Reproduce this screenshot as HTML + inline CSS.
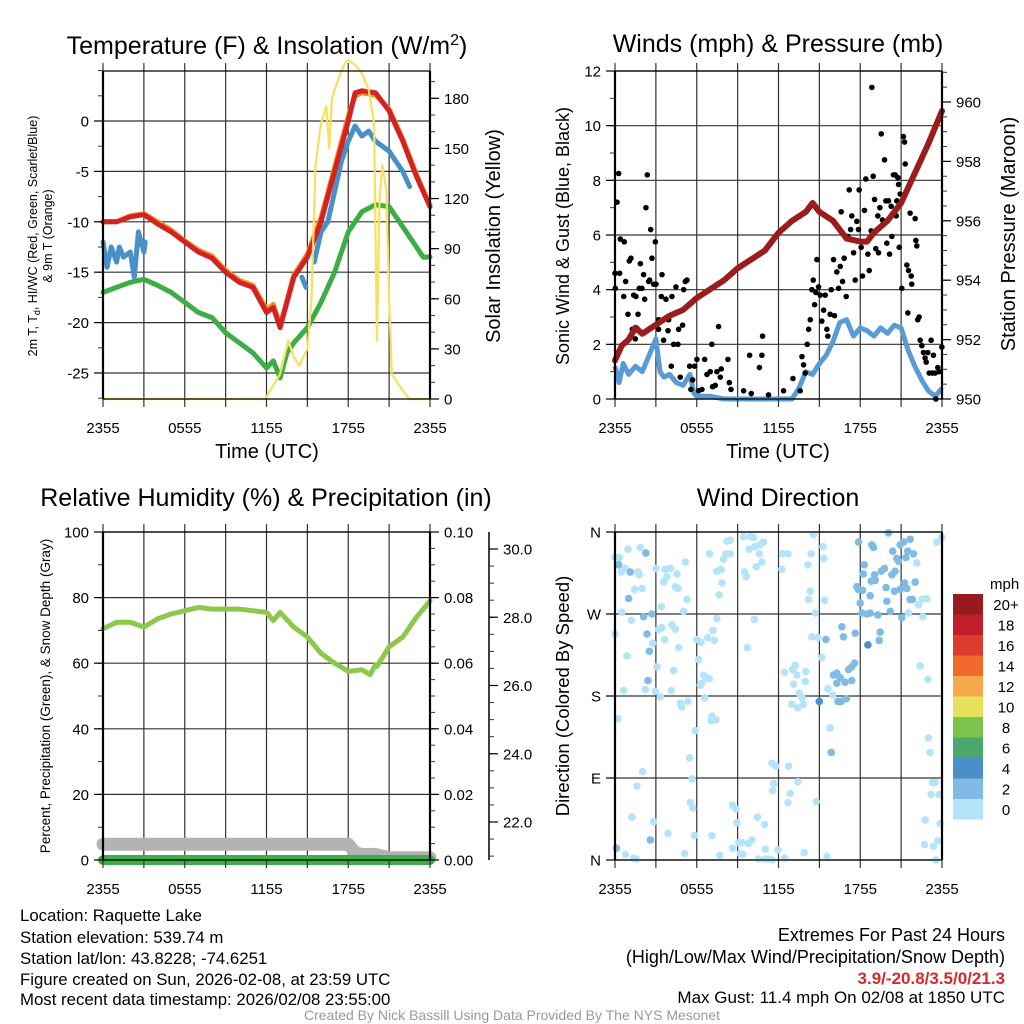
<!DOCTYPE html>
<html><head><meta charset="utf-8"><style>
html,body{margin:0;padding:0;background:#fff;}
svg{display:block;font-family:"Liberation Sans",Arial,sans-serif;}
</style></head><body>
<svg id="fig" width="1024" height="1024" viewBox="0 0 1024 1024" xmlns="http://www.w3.org/2000/svg">
<rect width="1024" height="1024" fill="#fff"/>
<g id="bg"></g>
<g id="marks"></g>
<g id="axes"></g>
<g id="texts" fill="#000">
<text x="267" y="54" font-size="25" text-anchor="middle">Temperature (F) &amp; Insolation (W/m<tspan dy="-9" font-size="16">2</tspan><tspan dy="9">)</tspan></text>
<text x="778" y="52" font-size="25" text-anchor="middle">Winds (mph) &amp; Pressure (mb)</text>
<text x="266" y="506" font-size="25" text-anchor="middle">Relative Humidity (%) &amp; Precipitation (in)</text>
<text x="778" y="506" font-size="25" text-anchor="middle">Wind Direction</text>
<text x="267" y="458" font-size="20" text-anchor="middle">Time (UTC)</text>
<text x="778" y="458" font-size="20" text-anchor="middle">Time (UTC)</text>
<text transform="translate(37,236) rotate(-90)" font-size="12.5" text-anchor="middle">2m T, T<tspan font-size="9" dy="3">d</tspan><tspan dy="-3">, HI/WC (Red, Green, Scarlet/Blue)</tspan></text>
<text transform="translate(52,236) rotate(-90)" font-size="12.5" text-anchor="middle">&amp; 9m T (Orange)</text>
<text transform="translate(500,236) rotate(-90)" font-size="20" text-anchor="middle">Solar Insolation (Yellow)</text>
<text transform="translate(569,236) rotate(-90)" font-size="18" text-anchor="middle">Sonic Wind &amp; Gust (Blue, Black)</text>
<text transform="translate(1015,234) rotate(-90)" font-size="20" text-anchor="middle">Station Pressure (Maroon)</text>
<text transform="translate(50,696) rotate(-90)" font-size="13.5" text-anchor="middle">Percent, Precipitation (Green), &amp; Snow Depth (Gray)</text>
<text transform="translate(569,696) rotate(-90)" font-size="18.5" text-anchor="middle">Direction (Colored By Speed)</text>
<g font-size="16.8">
<text x="20" y="921">Location: Raquette Lake</text>
<text x="20" y="943">Station elevation: 539.74 m</text>
<text x="20" y="964">Station lat/lon: 43.8228; -74.6251</text>
<text x="20" y="985">Figure created on Sun, 2026-02-08, at 23:59 UTC</text>
<text x="20" y="1005">Most recent data timestamp: 2026/02/08 23:55:00</text>
</g>
<g font-size="18" text-anchor="end">
<text x="1005" y="941">Extremes For Past 24 Hours</text>
<text x="1005" y="963">(High/Low/Max Wind/Precipitation/Snow Depth)</text>
<text x="1005" y="984" fill="#d42a2a" font-weight="bold" font-size="17">3.9/-20.8/3.5/0/21.3</text>
<text x="1005" y="1003" font-size="17">Max Gust: 11.4 mph On 02/08 at 1850 UTC</text>
</g>
<text x="512" y="1020" font-size="14" fill="#999" text-anchor="middle">Created By Nick Bassill Using Data Provided By The NYS Mesonet</text>
</g>
</svg>
<script>
// ---------- data ----------
const xTickLabels = ["2355","0555","1155","1755","2355"];
const tempHours = [0,1,2,3,4,5,6,7,8,9,10,11,12,12.5,13,13.3,14,15,16,17,18,18.5,19,20,21,22,23,24];
const tempRed = [-10,-10,-9.5,-9.3,-10.2,-11,-12,-13,-13.6,-15,-16,-16.5,-19,-18.5,-20.5,-19,-15.5,-13.5,-10,-5,0,2.8,3,2.8,1,-2,-5.5,-8.5];
const tempOrange = [-10,-10,-9.4,-9.2,-10,-10.8,-11.9,-12.8,-13.4,-14.8,-15.8,-16.3,-18.7,-18.2,-20.2,-18.8,-15.3,-13.2,-9.6,-4.6,0.5,2.5,2.8,2.6,1.2,-1.8,-5.3,-8.4];
const dewHours = [0,1,2,3,4,5,6,7,8,9,10,11,12,12.5,13,13.5,14,15,16,17,18,19,20,21,22,23,23.5,24];
const dewGreen = [-17,-16.5,-16,-15.7,-16.3,-17,-18,-19,-19.5,-21,-22,-23,-24.5,-23.8,-25.5,-23,-22,-20.5,-18,-15,-11,-9,-8.3,-8.5,-10.5,-12.5,-13.5,-13.5];
const chillHours = [0,0.3,0.6,1,1.2,1.5,2,2.3,2.6,3,3.1,null,14.6,14.9,null,15.5,16,16.5,17,17.5,18,18.5,19,19.5,20,20.5,21,21.5,22,22.5];
const chillBlue = [-12,-14.5,-12.5,-14,-12.5,-13.5,-13,-15.5,-11,-13,-12,null,-15.5,-16.5,null,-14,-11,-10,-7,-4,-2,-0.5,-1.5,-1,-2,-2.5,-3,-4,-5,-6.5];
const solarHours = [0,11.9,12.5,13,13.6,14,14.4,14.7,15,15.3,15.6,16,16.4,16.6,16.8,17.2,17.7,18,18.5,19,19.5,19.9,20.1,20.3,20.5,20.8,21,21.2,21.6,22,22.5,23,24];
const solarVals = [0,0,8,15,35,25,20,25,30,60,140,165,175,150,180,190,200,203,200,195,185,165,35,120,140,125,60,15,10,5,0,0,0];
const windHours = [0,0.3,0.6,1,1.5,2,2.5,3,3.3,3.6,4,4.5,5,5.5,5.8,6,7,8,9,10,11,12,13,13.5,14,14.5,15,15.5,16,16.5,17,17.5,18,18.5,19,19.5,20,20.5,21,21.5,22,22.5,23,23.5,24];
const windVals = [1.2,0.6,1.3,0.9,1.2,1.0,1.6,2.2,1.0,0.8,0.9,0.6,0.5,0.9,0.2,0.1,0.1,0,0,0,0,0,0,0.4,1.0,0.9,1.3,1.6,2.1,2.8,2.9,2.3,2.6,2.5,2.3,2.6,2.4,2.7,2.6,1.8,1.2,0.7,0.3,0.1,0.4];
const gustHours = [0,0.02,0.15,0.27,0.39,0.34,0.68,0.64,0.78,0.95,1.05,1.17,1.27,1.37,1.49,1.54,1.59,1.69,1.78,1.86,1.98,2.1,2.18,2.27,2.37,2.47,2.54,2.62,2.71,2.84,2.96,3.01,3.2,3.2,3.4,3.45,3.57,3.74,3.89,3.94,4.13,4.18,4.3,4.47,4.62,4.67,4.79,4.96,5.04,5.16,5.28,5.48,5.57,5.7,5.84,6.01,6.14,6.38,6.58,6.75,6.99,7.11,7.16,7.36,7.48,7.6,7.73,7.8,8.29,8.39,8.51,9.44,9.88,10.0,10.6,10.78,10.83,11.27,12.37,13.06,13.59,13.72,13.84,13.96,14.11,14.21,14.33,14.45,14.55,14.65,14.74,14.82,14.94,15.06,15.18,15.31,15.43,15.55,15.62,15.79,15.87,16.04,16.11,16.28,16.41,16.53,16.6,16.7,16.82,16.97,17.09,17.19,17.29,17.38,17.51,17.63,17.75,17.87,17.92,18.07,18.17,18.31,18.41,18.56,18.66,18.8,18.85,18.95,19.05,19.14,19.29,19.34,19.44,19.54,19.63,19.78,19.88,19.95,20.07,20.15,20.27,20.32,20.44,20.56,20.64,20.68,20.76,20.81,20.86,20.93,21.05,21.17,21.25,21.3,21.42,21.49,21.54,21.66,21.74,21.78,22.03,22.08,22.15,22.22,22.32,22.4,22.52,22.64,22.76,22.84,22.96,23.06,23.2,23.3,23.37,23.5,23.55,23.69,23.79,23.99];
const gustVals = [4.6,4.05,7.2,8.25,5.85,4.6,5.75,3.75,4.3,3.1,5.05,5.15,2.55,3.8,2.2,3.75,2.6,3.1,4.05,4.95,4.05,4.55,3.65,7.0,8.2,4.3,4.35,6.2,5.15,4.2,5.75,4.2,2.9,2.55,3.75,4.55,2.15,3.65,2.5,2.9,1.2,3.75,2.0,4.1,2.0,2.55,0.8,2.7,4.0,4.3,4.35,1.2,0.35,0.7,1.2,1.45,0.3,0.35,1.45,0.9,1.0,2.0,0.45,0.5,1.0,2.65,0.8,1.1,1.45,0.6,0.35,0.3,1.6,0.2,1.15,1.6,2.3,0.15,0.3,0.75,0.3,1.55,1.25,0.95,2.0,2.55,2.9,4.0,4.35,3.45,3.9,5.1,4.1,3.8,2.85,3.25,3.8,2.55,2.3,3.1,4.0,5.1,3.05,4.65,4.05,4.85,6.85,4.3,5.15,3.75,5.95,7.65,6.2,6.7,5.35,4.35,6.5,6.2,7.65,5.55,4.5,6.9,8.05,5.3,4.7,6.15,11.4,8.15,7.3,5.5,6.7,5.35,7.0,9.7,6.55,8.75,7.25,5.7,7.25,5.3,7.05,5.95,8.2,8.2,6.7,7.25,8.1,7.85,5.55,7.5,4.05,9.6,9.4,8.6,4.9,3.15,4.7,6.8,4.5,4.2,6.6,5.8,5.6,2.9,3.0,2.15,1.95,1.7,1.5,1.35,1.7,0.95,2.15,0.95,1.6,0.95,0,1.15,1.0,1.9];
const presHours = [0,0.5,1,1.5,2,3,4,5,6,7,8,9,10,11,12,13,14,14.5,15,16,17,18,18.5,19,20,21,22,23,24];
const presVals = [951.3,951.8,952.0,952.4,952.2,952.5,952.8,953.0,953.4,953.7,954.0,954.4,954.7,955.0,955.6,956.0,956.3,956.6,956.3,956.0,955.4,955.3,955.3,955.6,956.0,956.6,957.6,958.6,959.7];
const rhHours = [0,1,2,3,4,5,6,7,8,9,10,11,12,12.5,13,14,15,16,17,18,19,19.6,20,20.1,21,22,23,24];
const rhVals = [70.5,72.5,72.5,71,73.5,75,76,77,76.5,76.5,76.5,76,75.5,73,75.5,71,68,63,60,57.5,58,56.5,59.5,59,65,68,74,79];
const snowHours = [0,18,18.5,19,20,21,24];
const snowVals = [21.35,21.35,21.1,21.05,21.05,20.95,20.95];
const precipHours = [0,24];
const precipVals = [0,0];
const dirHours = [0,0.32,0.27,0.46,0.76,0.95,1.12,1.69,1.78,1.86,2.27,1.44,1.98,1.0,0.51,1.2,2.1,2.71,0,2.35,2.76,0.88,2.52,3.08,2.42,0.64,2.22,2.96,3.33,0.22,2.03,1.61,1.25,2.84,2.59,0.1,0.76,1.37,1.56,3.01,3.69,4.06,4.55,3.81,3.57,4.43,4.62,5.16,5.28,3.4,5.04,3.2,3.45,4.18,4.43,3.64,4.67,4.3,4.13,4.79,4.91,5.35,5.89,5.48,5.65,5.53,5.7,3.89,5.84,5.11,6.94,7.48,7.8,7.97,8.14,8.46,8.22,8.46,7.85,7.65,7.48,7.19,6.01,6.31,6.8,7.29,6.14,6.5,6.7,6.92,6.38,6.26,6.58,7.11,7.41,7.07,7.11,7.68,8.63,8.88,8.95,9.07,9.32,8.63,9.19,9.39,9.8,10.05,10.46,10.98,10.54,11.03,11.27,11.52,11.03,11.96,12.45,9.44,9.93,10.17,9.85,10.29,10.66,10.9,10.59,10.78,10.37,9.51,9.63,10.22,9.71,12.3,12.69,12.25,14.16,14.4,14.57,15.26,15.31,14.33,14.21,15.38,14.69,14.45,14.89,15.48,15.18,12.45,13.03,13.23,13.35,14.01,13.11,13.96,13.52,13.72,12.98,13.42,13.84,14.99,15.99,16.36,16.6,16.97,15.62,15.79,15.87,14.77,11.52,11.81,12.74,11.64,11.57,12.86,12.69,13.42,13.89,15.55,16.04,16.28,16.53,16.89,17.14,17.38,17.58,17.38,16.28,16.65,16.77,17.63,18.56,19.46,19.39,17.87,18.85,18.97,18.29,18.22,17.75,17.87,18.17,18.73,18.0,18.12,18.48,18.73,19.29,18.8,19.1,19.05,19.54,19.78,19.9,19.95,20.2,20.07,20.39,20.69,20.81,20.56,20.32,20.51,20.93,21.17,21.66,21.35,21.25,21.42,20.93,21.66,21.83,22.03,21.05,21.49,21.91,22.15,21.54,22.27,22.52,22.88,22.59,23.62,23.99,22.4,22.96,23.01,23.13,23.3,23.5,23.2,23.79,22.76,23.86,22.71,23.37,23.69,23.55];
const dirVals = [332,332,324,316,320,341,316,316,313,343,337,297,298,287,272,263,267,270,248,248,238,224,229,212,197,186,187,185,179,155,97,81,47,42,22,13,6,2,1,320,319,320,314,311,305,300,298,327,286,278,273,253,255,258,253,242,233,208,186,172,168,174,142,112,89,63,57,29,27,7,336,317,319,330,336,336,350,351,304,291,265,252,242,239,244,241,220,203,200,199,194,192,178,158,154,153,27,5,60,56,41,19,19,13,7,6,18,22,47,39,1,1,1,0,12,11,2,355,355,354,341,344,346,349,336,327,322,316,311,264,233,336,336,319,324,336,357,344,331,295,286,285,271,245,244,242,222,206,209,214,203,207,193,196,183,178,171,167,171,174,181,174,174,177,188,145,118,64,106,103,103,84,76,73,63,86,8,4,203,205,200,195,209,212,216,197,194,256,245,249,236,250,241,349,346,343,324,314,300,297,296,290,282,271,270,271,269,306,307,313,317,320,299,284,273,359,339,331,328,317,313,295,346,349,352,332,304,298,297,286,286,305,266,339,336,326,271,280,286,287,267,349,354,213,198,134,118,85,85,72,72,44,40,17,15,21,0];
const dirSpeed = [1,1,3,1,1,1,3,1,1,1,3,1,1,3,1,1,3,3,1,3,1,1,3,1,3,1,1,1,1,1,1,1,1,1,3,3,1,1,1,1,1,1,1,1,1,1,1,1,1,1,1,1,1,1,1,1,1,1,1,1,1,1,1,1,1,1,1,1,1,1,1,1,1,1,1,1,1,1,1,1,1,1,1,1,1,1,1,1,1,1,1,1,1,1,1,1,1,1,1,1,1,1,1,1,1,1,1,1,1,1,1,1,1,1,1,1,1,1,1,1,1,1,1,1,1,1,1,1,1,1,1,1,1,1,1,1,1,1,1,1,1,1,1,1,1,3,1,1,1,1,1,1,1,1,1,1,1,1,1,5,1,3,3,3,1,1,3,1,1,1,1,1,1,1,1,1,1,1,3,3,3,3,3,3,3,3,3,3,3,3,4,3,3,3,3,3,3,3,3,3,3,3,3,3,3,3,3,3,3,3,3,3,3,3,3,3,3,3,3,3,3,3,3,3,3,3,3,3,3,3,3,3,3,3,3,1,1,1,1,1,1,1,1,1,1,1,1,1,1,1,1,1,1,1,1,1,1,1,1];
const legendLabels = ["20+","18","16","14","12","10","8","6","4","2","0"];
const legendColors = ["#961a1e","#bf1e2a","#dd3b2b","#f06a2c","#f6a84a","#e6e05a","#7cc24b","#4aa86e","#4a8fc7","#7fbbe5","#b5e3f8"];

// ---------- helpers ----------
const NS="http://www.w3.org/2000/svg";
const bg=document.getElementById('bg'), marks=document.getElementById('marks'), axes=document.getElementById('axes');
function mk(tag,attrs,parent){const e=document.createElementNS(NS,tag);for(const k in attrs)e.setAttribute(k,attrs[k]);parent.appendChild(e);return e;}
function lin(d0,d1,r0,r1){return v=>r0+(v-d0)*(r1-r0)/(d1-d0);}
const L={x0:103,x1:430}, R={x0:615,x1:942};
const xL=lin(0,24,L.x0,L.x1), xR=lin(0,24,R.x0,R.x1);
const yTemp=lin(0,-25,121,373), ySolar=lin(0,180,399,98.3);
const yWind=lin(0,12,399,71), yPres=lin(950,960,399,102);
const yRH=lin(0,100,860,532), yPrec=lin(0,0.1,860,532), ySnow=lin(22,30,822,549);
const yDir=lin(0,360,860,532);

function pathFrom(hrs,vals,xs,ys){let d='',pen=false;for(let i=0;i<hrs.length;i++){if(hrs[i]===null||vals[i]===null){pen=false;continue;}d+=(pen?'L':'M')+xs(hrs[i]).toFixed(1)+' '+ys(vals[i]).toFixed(1);pen=true;}return d;}

function frame(px,top,bot,name,opts){
  const g=mk('g',{},axes);
  
  
  const xs=lin(0,24,px.x0,px.x1);
  for(let i=0;i<=8;i++){const x=xs(i*3);
    mk('line',{x1:x,y1:top,x2:x,y2:bot,stroke:'#333','stroke-width':1.2},bg);
    mk('line',{x1:x,y1:bot,x2:x,y2:bot+8,stroke:'#333','stroke-width':1.2},g);
    mk('line',{x1:x,y1:top,x2:x,y2:top-8,stroke:'#333','stroke-width':1.2},g);
  }
  for(let i=0;i<xTickLabels.length;i++){
    const t=mk('text',{x:xs(i*6),y:bot+34,'font-size':15,'text-anchor':'middle'},g);t.textContent=xTickLabels[i];
    
    
  }
  mk('line',{x1:px.x0,y1:top,x2:px.x1,y2:top,stroke:'#000','stroke-width':1.3},g);
  mk('line',{x1:px.x0,y1:bot,x2:px.x1,y2:bot,stroke:'#000','stroke-width':1.3},g);
  mk('line',{x1:px.x0,y1:top,x2:px.x0,y2:bot,stroke:'#000','stroke-width':2.2},g);
  mk('line',{x1:px.x1,y1:top,x2:px.x1,y2:bot,stroke:'#000','stroke-width':2.2},g);
  return g;
}
function yAxis(g,side,px,vals,ys,labels,minorVals,top,bot,grid){
  const x= side==='l'?px.x0:px.x1, dir= side==='l'?-1:1;
  for(const v of minorVals){const y=ys(v);if(y<top-0.5||y>bot+0.5)continue;mk('line',{x1:x,y1:y,x2:x+dir*5,y2:y,stroke:'#333','stroke-width':1},g);}
  vals.forEach((v,i)=>{const y=ys(v);
    mk('line',{x1:x,y1:y,x2:x+dir*9,y2:y,stroke:'#000','stroke-width':1.2},g);
    if(grid)mk('line',{x1:px.x0,y1:y,x2:px.x1,y2:y,stroke:'#333','stroke-width':1.2},bg);
    const t=mk('text',{x:x+dir*14,y:y+5.5,'font-size':15,'text-anchor':side==='l'?'end':'start'},g);t.textContent=labels[i];
    
    
  });
}
function range(a,b,s){const r=[];for(let v=a;v<=b+1e-9;v+=s)r.push(+v.toFixed(4));return r;}

// ---------- Temperature chart ----------
{const g=frame(L,71,399,'temperature');
 yAxis(g,'l',L,[0,-5,-10,-15,-20,-25],yTemp,["0","-5","-10","-15","-20","-25"],range(-27.5,5,2.5),71,399,true);
 yAxis(g,'r',L,[0,30,60,90,120,150,180],ySolar,["0","30","60","90","120","150","180"],range(0,190,10),71,399,false);
 const p=(h,v,ys,c,w,n)=>{const e=mk('path',{d:pathFrom(h,v,xL,ys),fill:'none',stroke:c,'stroke-width':w,'stroke-linejoin':'round','stroke-linecap':'round'},marks);};
 p(dewHours,dewGreen,yTemp,'#3dad45',5,'dewpoint-line');
 p(chillHours,chillBlue,yTemp,'#4a90c8',5,'wind-chill-line');
 p(tempHours,tempOrange,yTemp,'#f28a2a',5,'9m-temperature-line');
 p(tempHours,tempRed,yTemp,'#d42222',5,'2m-temperature-line');
 p(solarHours,solarVals,ySolar,'#f7e15a',2.2,'solar-insolation-line');
}
// ---------- Winds chart ----------
{const g=frame(R,71,399,'winds');
 yAxis(g,'l',R,[0,2,4,6,8,10,12],yWind,["0","2","4","6","8","10","12"],range(0,12,1),71,399,true);
 yAxis(g,'r',R,[950,952,954,956,958,960],yPres,["950","952","954","956","958","960"],range(950,961,0.5),71,399,false);
 const w=mk('path',{d:pathFrom(windHours,windVals,xR,yWind),fill:'none',stroke:'#5b9bd5','stroke-width':5,'stroke-linejoin':'round'},marks);
 
 
 gustHours.forEach((h,i)=>{const c=mk('circle',{cx:xR(h),cy:yWind(gustVals[i]),r:2.8,fill:'#000'},marks);
   
   });
 const pr=mk('path',{d:pathFrom(presHours,presVals,xR,yPres),fill:'none',stroke:'#9b1c1c','stroke-width':6,'stroke-linejoin':'round','stroke-linecap':'round'},marks);
 
 
}
// ---------- RH chart ----------
{const g=frame(L,532,860,'humidity');
 yAxis(g,'l',L,[0,20,40,60,80,100],yRH,["0","20","40","60","80","100"],range(0,100,10),532,860,true);
 yAxis(g,'r',L,[0,0.02,0.04,0.06,0.08,0.1],yPrec,["0.00","0.02","0.04","0.06","0.08","0.10"],range(0,0.1,0.005),532,860,false);
 const sx=489; mk('line',{x1:sx,y1:532,x2:sx,y2:860,stroke:'#000','stroke-width':1.5},g);
 range(20.5,30.5,0.5).forEach(v=>{const y=ySnow(v);if(y<532||y>860)return;mk('line',{x1:sx,y1:y,x2:sx+5,y2:y,stroke:'#333'},g);});
 [22,24,26,28,30].forEach(v=>{const y=ySnow(v);mk('line',{x1:sx,y1:y,x2:sx+9,y2:y,stroke:'#000','stroke-width':1.2},g);
   const t=mk('text',{x:sx+14,y:y+5.5,'font-size':15},g);t.textContent=v.toFixed(1);
   
   });
 const s=mk('path',{d:pathFrom(snowHours,snowVals,xL,ySnow),fill:'none',stroke:'#b3b3b3','stroke-width':13,'stroke-linecap':'round','stroke-linejoin':'round'},marks);
 
 
 const pc=mk('path',{d:pathFrom(precipHours,precipVals,xL,yPrec),fill:'none',stroke:'#3fae49','stroke-width':10,'stroke-linecap':'round'},marks);
 
 
 const rh=mk('path',{d:pathFrom(rhHours,rhVals,xL,yRH),fill:'none',stroke:'#8cc84b','stroke-width':5,'stroke-linejoin':'round','stroke-linecap':'round'},marks);
 
 
}
// ---------- Wind direction chart ----------
{const g=frame(R,532,860,'wind-direction');
 yAxis(g,'l',R,[0,90,180,270,360],yDir,["N","E","S","W","N"],[],532,860,true);
 const col=s=>s>=4?'#4a8fc7':(s>=2?'#7fbbe5':'#b5e3f8');
 dirHours.forEach((h,i)=>{const c=mk('circle',{cx:xR(h),cy:yDir(dirVals[i]),r:3.8,fill:col(dirSpeed[i])},marks);
   
   });
 const lg=mk('g',{},axes);
 
 
 const t0=mk('text',{x:990,y:589,'font-size':15},lg);t0.textContent='mph';
 legendLabels.forEach((lab,i)=>{const y=594+i*20.5;
   const r=mk('rect',{x:953,y:y,width:30,height:20.6,fill:legendColors[i]},lg);
   
   
   const t=mk('text',{x:1006,y:y+16,'font-size':15,'text-anchor':'middle'},lg);t.textContent=lab;
   
   });
}
</script>
</body></html>
